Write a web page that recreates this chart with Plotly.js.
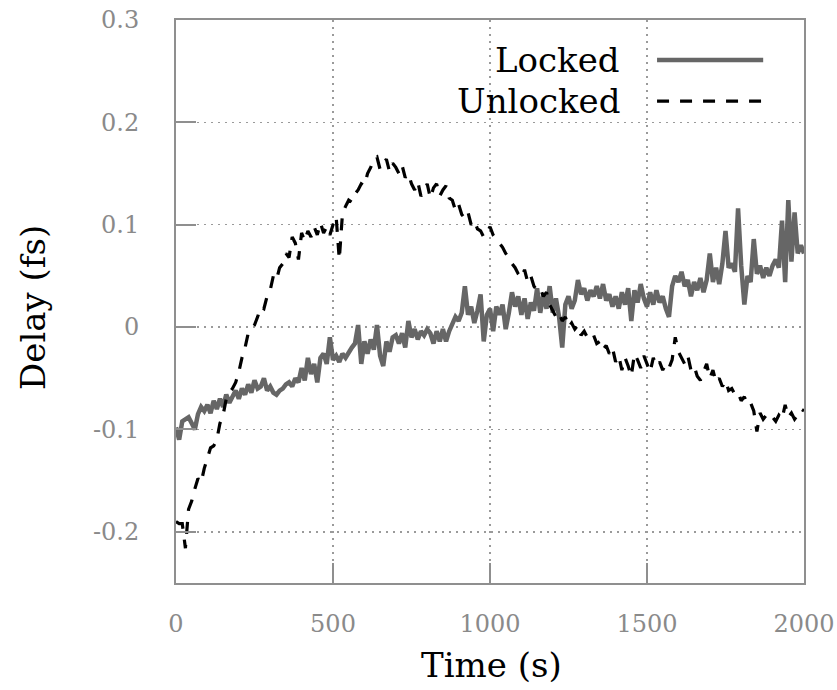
<!DOCTYPE html>
<html>
<head>
<meta charset="utf-8">
<script src="https://cdn.plot.ly/plotly-3.0.1.min.js"></script>
<style>
  html, body { margin: 0; padding: 0; background: #fff; }
  #chart { width: 837px; height: 690px; }
</style>
</head>
<body>
<div id="chart"></div>
<script>
// Sampling interval of the delay record, seconds
const sampleStep = 10;

// Delay (fs) with the lock engaged, one value per sample from t = 0 s
const lockedDelay = [
  -0.098, -0.110, -0.092, -0.090, -0.088, -0.094, -0.100, -0.085, -0.078, -0.082,
  -0.076, -0.084, -0.072, -0.080, -0.070, -0.078, -0.066, -0.074, -0.068, -0.062,
  -0.070, -0.060, -0.066, -0.056, -0.064, -0.052, -0.060, -0.058, -0.050, -0.062,
  -0.058, -0.064, -0.066, -0.062, -0.060, -0.056, -0.054, -0.058, -0.050, -0.054,
  -0.040, -0.052, -0.030, -0.046, -0.036, -0.054, -0.030, -0.026, -0.036, -0.010,
  -0.032, -0.028, -0.034, -0.026, -0.030, -0.024, -0.020, -0.016, 0.002, -0.036,
  -0.014, -0.026, -0.012, -0.022, 0.002, -0.028, -0.038, -0.014, -0.024, -0.010,
  -0.008, -0.016, -0.006, -0.020, 0.006, -0.010, -0.002, -0.012, -0.004, -0.008,
  -0.002, -0.006, -0.016, -0.004, -0.014, -0.002, -0.014, -0.004, 0.004, 0.010,
  0.006, 0.014, 0.040, 0.012, 0.020, 0.004, 0.016, 0.032, -0.014, 0.012,
  0.018, -0.004, 0.020, 0.012, 0.022, -0.002, 0.014, 0.034, 0.020, 0.030,
  0.012, 0.028, 0.008, 0.024, 0.016, 0.038, 0.014, 0.032, 0.018, 0.040,
  0.014, 0.028, 0.010, -0.020, 0.022, 0.030, 0.018, 0.026, 0.046, 0.032,
  0.038, 0.026, 0.036, 0.030, 0.040, 0.028, 0.042, 0.026, 0.032, 0.020,
  0.030, 0.018, 0.034, 0.022, 0.038, 0.006, 0.036, 0.024, 0.042, 0.028,
  0.020, 0.034, 0.022, 0.036, 0.024, 0.030, 0.018, 0.010, 0.040, 0.050,
  0.044, 0.054, 0.040, 0.046, 0.030, 0.044, 0.036, 0.048, 0.034, 0.046,
  0.072, 0.044, 0.058, 0.042, 0.062, 0.094, 0.058, 0.062, 0.054, 0.116,
  0.060, 0.022, 0.050, 0.044, 0.086, 0.052, 0.060, 0.048, 0.058, 0.050,
  0.060, 0.066, 0.058, 0.104, 0.044, 0.124, 0.064, 0.112, 0.072, 0.080,
  0.072
];

// Delay (fs) free-running, same sampling
const unlockedDelay = [
  -0.190, -0.192, -0.192, -0.216, -0.178, -0.170, -0.158, -0.148, -0.152, -0.138,
  -0.128, -0.118, -0.116, -0.110, -0.094, -0.086, -0.070, -0.064, -0.060, -0.054,
  -0.044, -0.030, -0.020, -0.006, -0.002, 0.002, 0.010, 0.020, 0.018, 0.030,
  0.036, 0.050, 0.046, 0.058, 0.062, 0.072, 0.068, 0.088, 0.082, 0.066,
  0.092, 0.084, 0.094, 0.088, 0.098, 0.090, 0.102, 0.092, 0.098, 0.090,
  0.100, 0.108, 0.066, 0.110, 0.118, 0.124, 0.122, 0.130, 0.134, 0.140,
  0.138, 0.150, 0.156, 0.164, 0.166, 0.154, 0.160, 0.164, 0.152, 0.160,
  0.156, 0.150, 0.158, 0.146, 0.150, 0.140, 0.134, 0.142, 0.128, 0.132,
  0.140, 0.126, 0.136, 0.140, 0.128, 0.134, 0.138, 0.126, 0.124, 0.114,
  0.120, 0.110, 0.106, 0.112, 0.100, 0.104, 0.096, 0.094, 0.088, 0.092,
  0.098, 0.090, 0.086, 0.082, 0.078, 0.072, 0.068, 0.062, 0.058, 0.052,
  0.048, 0.056, 0.044, 0.050, 0.040, 0.036, 0.038, 0.030, 0.034, 0.022,
  0.016, 0.010, 0.014, 0.006, 0.010, 0.000, 0.004, -0.002, 0.002, -0.008,
  -0.004, -0.010, -0.012, -0.008, -0.016, -0.014, -0.022, -0.018, -0.026, -0.020,
  -0.034, -0.028, -0.042, -0.030, -0.038, -0.048, -0.026, -0.032, -0.040, -0.028,
  -0.036, -0.044, -0.030, -0.038, -0.034, -0.042, -0.036, -0.040, -0.032, -0.010,
  -0.024, -0.030, -0.036, -0.028, -0.042, -0.038, -0.048, -0.052, -0.044, -0.036,
  -0.050, -0.042, -0.054, -0.050, -0.058, -0.052, -0.062, -0.060, -0.066, -0.064,
  -0.072, -0.068, -0.076, -0.074, -0.082, -0.102, -0.084, -0.090, -0.086, -0.090,
  -0.088, -0.092, -0.086, -0.090, -0.076, -0.088, -0.084, -0.090, -0.086, -0.080,
  -0.082
];

const xTickVals = [0, 500, 1000, 1500, 2000];
const xTickText = ['0', '500', '1000', '1500', '2000'];
const yTickVals = [-0.2, -0.1, 0, 0.1, 0.2, 0.3];
const yTickText = ['-0.2', '-0.1', '0', '0.1', '0.2', '0.3'];

const seriesNames = ['Locked', 'Unlocked'];

const timeAxis = lockedDelay.map((_, i) => i * sampleStep);

const serif = 'DejaVu Serif';
const frameGray = '#8f8f8f';
const lockedGray = '#666666';

const traces = [
  {
    x: timeAxis, y: lockedDelay, name: seriesNames[0],
    type: 'scatter', mode: 'lines',
    line: { color: lockedGray, width: 4.5 }
  },
  {
    x: timeAxis, y: unlockedDelay, name: seriesNames[1],
    type: 'scatter', mode: 'lines',
    line: { color: '#000000', width: 3.2, dash: '12px,11px' }
  }
];

const axisCommon = {
  showline: true, linecolor: frameGray, linewidth: 2, mirror: true,
  ticks: 'inside', ticklen: 20, tickwidth: 2, tickcolor: frameGray,
  showgrid: true, gridcolor: '#9a9a9a', gridwidth: 1.5, griddash: '2px,5px',
  zeroline: false,
  tickfont: { family: serif, size: 24, color: '#8a8a8a' },
  ticklabeloverflow: 'allow',
  tickmode: 'array'
};

const layout = {
  width: 837, height: 690,
  margin: { l: 176, r: 33, t: 20, b: 107 },
  paper_bgcolor: '#ffffff', plot_bgcolor: '#ffffff',
  showlegend: false,
  font: { family: serif },
  xaxis: Object.assign({}, axisCommon, {
    range: [0, 2000], tickvals: xTickVals, ticktext: xTickText,
    ticklabelstandoff: 18
  }),
  yaxis: Object.assign({}, axisCommon, {
    range: [-0.25, 0.3], tickvals: yTickVals, ticktext: yTickText,
    ticklabelstandoff: 30
  }),
  annotations: [
    { xref: 'paper', yref: 'paper', x: 0.502, y: -0.146, text: 'Time (s)',
      showarrow: false, xanchor: 'center', yanchor: 'middle',
      font: { family: serif, size: 34, color: '#000' } },
    { xref: 'paper', yref: 'paper', x: -0.228, y: 0.49, text: 'Delay (fs)',
      showarrow: false, textangle: -90, xanchor: 'center', yanchor: 'middle',
      font: { family: serif, size: 34, color: '#000' } },
    { xref: 'paper', yref: 'paper', x: 0.71, y: 0.929, text: seriesNames[0],
      showarrow: false, xanchor: 'right', yanchor: 'middle',
      font: { family: serif, size: 34, color: '#000' } },
    { xref: 'paper', yref: 'paper', x: 0.71, y: 0.856, text: seriesNames[1],
      showarrow: false, xanchor: 'right', yanchor: 'middle',
      font: { family: serif, size: 34, color: '#000' } }
  ],
  shapes: [
    { type: 'line', xref: 'paper', yref: 'paper', x0: 0.766, x1: 0.935, y0: 0.929, y1: 0.929,
      line: { color: lockedGray, width: 4.5 } },
    { type: 'line', xref: 'paper', yref: 'paper', x0: 0.766, x1: 0.935, y0: 0.856, y1: 0.856,
      line: { color: '#000000', width: 3.2, dash: '12px,11px' } }
  ]
};

Plotly.newPlot('chart', traces, layout, { displayModeBar: false, staticPlot: true });
</script>
</body>
</html>
